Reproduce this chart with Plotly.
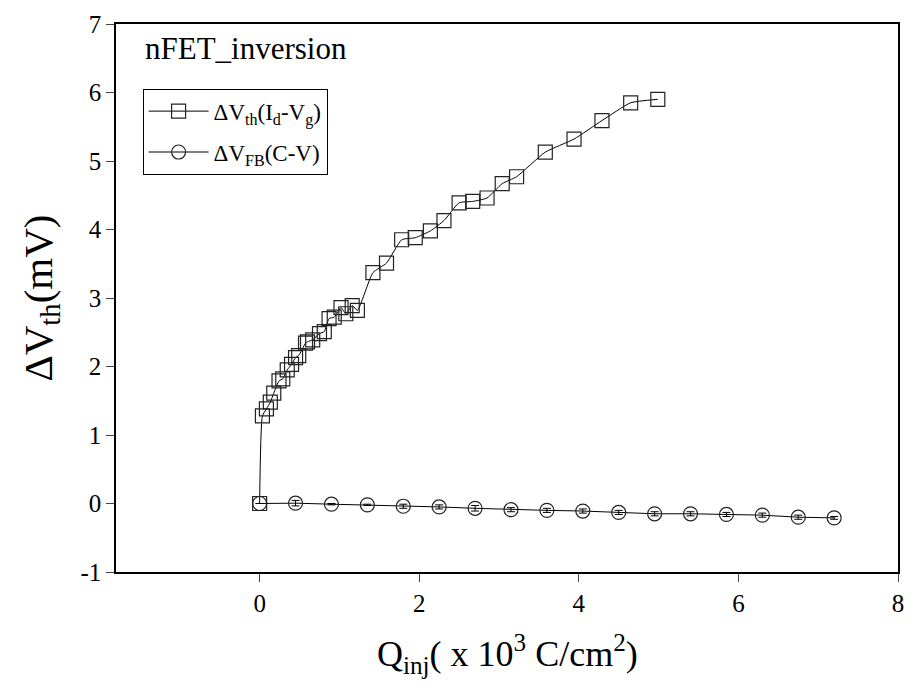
import plotly.graph_objects as go

# Square series: dVth (Id-Vg)
sq_x = [0, 0.035, 0.085, 0.134, 0.177, 0.243, 0.29, 0.346, 0.40, 0.45, 0.49, 0.575,
        0.60, 0.665, 0.75, 0.81, 0.87, 0.935, 1.02, 1.08, 1.16, 1.225,
        1.42, 1.59, 1.78, 1.95, 2.14, 2.31, 2.50, 2.67, 2.85, 3.04, 3.22,
        3.58, 3.94, 4.29, 4.65, 4.99]
sq_y = [0, 1.28, 1.38, 1.48, 1.61, 1.79, 1.82, 1.95, 2.03, 2.13, 2.16, 2.34,
        2.36, 2.39, 2.48, 2.51, 2.70, 2.72, 2.86, 2.77, 2.89, 2.82,
        3.37, 3.51, 3.85, 3.88, 3.98, 4.13, 4.39, 4.41, 4.46, 4.67, 4.77,
        5.13, 5.32, 5.59, 5.85, 5.90]

# Circle series: dVFB (C-V)
ci_x = [0, 0.45, 0.9, 1.35, 1.8, 2.25, 2.7, 3.15, 3.6, 4.05, 4.5, 4.95, 5.4, 5.85, 6.3, 6.75, 7.2]
ci_y = [0, 0.005, -0.01, -0.02, -0.04, -0.05, -0.07, -0.09, -0.10, -0.11, -0.13, -0.15,
        -0.15, -0.16, -0.17, -0.20, -0.21]
ci_err = [0, 0.04, 0.01, 0.01, 0.03, 0.03, 0.04, 0.03, 0.03, 0.03, 0.03, 0.03, 0.03, 0.03, 0.03, 0.03, 0.02]

x_ticks = [0, 2, 4, 6, 8]
x_ticklabels = ["0", "2", "4", "6", "8"]
y_ticks = [-1, 0, 1, 2, 3, 4, 5, 6, 7]
y_ticklabels = ["-1", "0", "1", "2", "3", "4", "5", "6", "7"]

FONT = "Liberation Serif"

fig = go.Figure()
fig.add_trace(go.Scatter(
    x=sq_x, y=sq_y, mode="lines+markers",
    name="ΔV<sub>th</sub>(I<sub>d</sub>-V<sub>g</sub>)",
    legendgroup="a",
    line=dict(color="black", width=1, shape="spline", smoothing=0.5),
    marker=dict(symbol="square-open", size=14, color="#222", line=dict(width=1.2)),
))
fig.add_trace(go.Scatter(
    x=ci_x, y=ci_y, mode="lines+markers",
    name="ΔV<sub>FB</sub>(C-V)",
    legendgroup="b",
    line=dict(color="black", width=1),
    marker=dict(symbol="circle-open", size=14, color="#222", line=dict(width=1.2)),
    error_y=dict(type="data", array=ci_err, color="black", thickness=1, width=4),
))

fig.update_layout(
    width=915, height=694,
    margin=dict(l=116, r=11, t=20, b=122),
    paper_bgcolor="white", plot_bgcolor="white",
    font=dict(family=FONT, size=22, color="black"),
    showlegend=True,
    legend=dict(x=0.034, y=0.882, xanchor="left", yanchor="top",
                bordercolor="black", borderwidth=1, bgcolor="white",
                font=dict(family=FONT, size=23), tracegroupgap=8,
                traceorder="grouped", itemwidth=60),
    xaxis=dict(range=[-1.8, 8], tickvals=x_ticks, ticktext=x_ticklabels,
               ticks="outside", ticklen=8,
               showline=True, linecolor="black", linewidth=1.5, mirror=True,
               showgrid=False, zeroline=False,
               tickfont=dict(family=FONT, size=25)),
    yaxis=dict(range=[-1, 7], tickvals=y_ticks, ticktext=y_ticklabels,
               ticks="outside", ticklen=8,
               showline=True, linecolor="black", linewidth=1.5, mirror=True,
               showgrid=False, zeroline=False,
               tickfont=dict(family=FONT, size=25)),
    annotations=[
        dict(text="nFET_inversion", x=0.034, y=0.955, xref="paper", yref="paper",
             xanchor="left", yanchor="middle", showarrow=False,
             font=dict(family=FONT, size=31)),
        dict(text="Q<sub>inj</sub>( x 10<sup>3</sup> C/cm<sup>2</sup>)",
             x=0.5, y=-0.15, xref="paper", yref="paper",
             xanchor="center", yanchor="middle", showarrow=False,
             font=dict(family=FONT, size=36)),
        dict(text="ΔV<sub>th</sub>(mV)", textangle=-90,
             x=-0.0964, y=0.5, xref="paper", yref="paper",
             xanchor="center", yanchor="middle", showarrow=False,
             font=dict(family=FONT, size=41)),
    ],
)

fig.write_html("out.html")
